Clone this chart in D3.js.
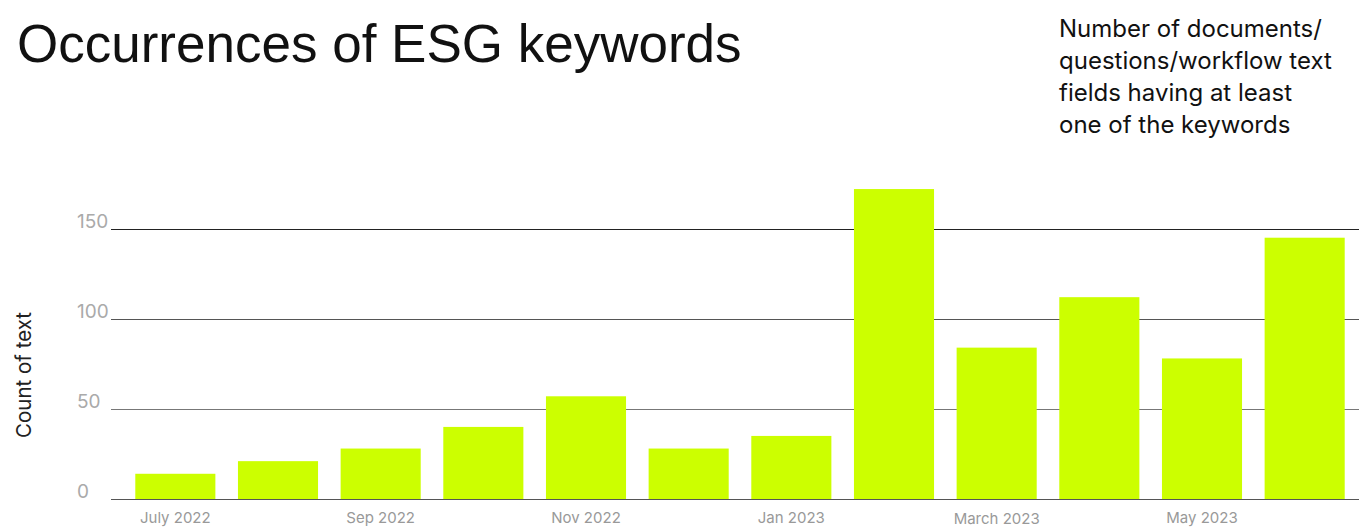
<!DOCTYPE html>
<html>
<head>
<meta charset="utf-8">
<script src="https://cdn.jsdelivr.net/npm/d3@7"></script>
<style>
  html, body { margin: 0; padding: 0; background: #fff; }
  svg { display: block; }
</style>
</head>
<body>
<svg id="chart" width="1359" height="527"></svg>
<script>
const months = ["Jul 2022","Aug 2022","Sep 2022","Oct 2022","Nov 2022","Dec 2022","Jan 2023","Feb 2023","Mar 2023","Apr 2023","May 2023","Jun 2023"];
const counts = [14, 21, 28, 40, 57, 28, 35, 172, 84, 112, 78, 145];
const tickLabels = ["July 2022", "", "Sep 2022", "", "Nov 2022", "", "Jan 2023", "", "March 2023", "", "May 2023", ""];
const yTicks = [0, 50, 100, 150];
const title = "Occurrences of ESG keywords";
const subtitleLines = ["Number of documents/", "questions/workflow text", "fields having at least", "one of the keywords"];
const yTitle = "Count of text";

const svg = d3.select("#chart");

const x = d3.scaleBand().domain(months).range([124, 1356]).paddingInner(0.22).paddingOuter(0.11);
const y = d3.scaleLinear().domain([0, 150]).range([499, 228.7]);

// gridlines
const gridColors = {0: "#555", 50: "#777", 100: "#555", 150: "#222"};
svg.append("g").selectAll("line").data(yTicks).join("line")
  .attr("x1", 111).attr("x2", 1359)
  .attr("y1", d => Math.round(y(d)) + 0.5).attr("y2", d => Math.round(y(d)) + 0.5)
  .attr("stroke", d => gridColors[d]).attr("stroke-width", 1);

// y tick labels
svg.append("g").selectAll("text").data(yTicks).join("text")
  .attr("x", 77).attr("y", d => y(d) - 1)
  .attr("font-family", "Inter, 'Noto Sans', sans-serif")
  .attr("font-size", 19).attr("fill", "#aaa")
  .text(d => d);

// bars
svg.append("g").selectAll("rect").data(counts).join("rect")
  .attr("x", (d, i) => x(months[i]))
  .attr("width", x.bandwidth())
  .attr("y", d => y(d))
  .attr("height", d => y(0) - y(d))
  .attr("fill", "#ccff00");

// x labels
svg.append("g").selectAll("text").data(tickLabels).join("text")
  .attr("x", (d, i) => x(months[i]) + x.bandwidth() / 2)
  .attr("y", (d, i) => tickLabels[i] === "March 2023" ? 524 : 523)
  .attr("text-anchor", "middle")
  .attr("font-family", "Inter, 'Noto Sans', sans-serif")
  .attr("font-size", 15).attr("fill", "#999")
  .text(d => d);

// y title
svg.append("text")
  .attr("transform", "translate(31,375) rotate(-90)")
  .attr("text-anchor", "middle")
  .attr("font-family", "Inter, 'Noto Sans', sans-serif")
  .attr("font-size", 20.5).attr("fill", "#222")
  .text(yTitle);

// title
svg.append("text")
  .attr("x", 17).attr("y", 62)
  .attr("font-family", "'Liberation Sans', Arial, sans-serif")
  .attr("font-size", 53).attr("fill", "#111")
  .text(title);

// subtitle
svg.append("g").selectAll("text").data(subtitleLines).join("text")
  .attr("x", 1059).attr("y", (d, i) => 37 + i * 32)
  .attr("font-family", "Inter, 'Noto Sans', sans-serif")
  .attr("font-size", 24).attr("fill", "#111")
  .text(d => d);
</script>
</body>
</html>
